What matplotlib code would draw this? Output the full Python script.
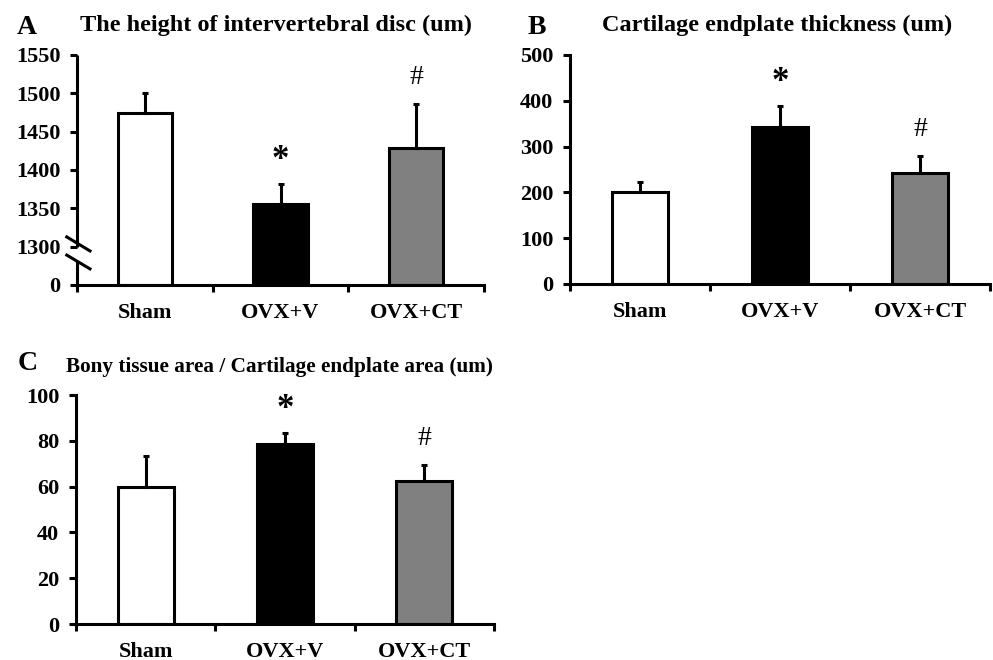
import numpy as np
import matplotlib
matplotlib.use('Agg')
import matplotlib.pyplot as plt

plt.rcParams['font.family'] = ['Liberation Serif', 'DejaVu Serif']
plt.rcParams['font.weight'] = 'bold'

# datos
groups = ['Sham', 'OVX+V', 'OVX+CT']
colors = ['white', 'black', '#808080']

disc_height = [1474, 1356, 1429]
disc_height_err = [26, 26, 57]
disc_marks = ['', '*', '#']

endplate_thick = [200, 343, 243]
endplate_thick_err = [23, 46, 36]
endplate_marks = ['', '*', '#']

bony_ratio = [60, 78.5, 62.4]
bony_ratio_err = [13.4, 5.0, 7.0]
bony_marks = ['', '*', '#']

# eje cortado del panel A: "0" se dibuja en 1250
a_base = 1250
a_ticks = [1250, 1300, 1350, 1400, 1450, 1500, 1550]
a_ticklabels = ['0', '1300', '1350', '1400', '1450', '1500', '1550']

LW = 2.2
TICK_FS = 16

fig = plt.figure(figsize=(9.93, 6.6), dpi=100)
axA = fig.add_axes([0.0775, 0.5682, 0.410, 0.3485])
axB = fig.add_axes([0.574, 0.5697, 0.423, 0.3470])
axC = fig.add_axes([0.0765, 0.0545, 0.421, 0.3470])


def draw_panel(ax, vals, errs, marks, base=0.0):
    x = np.arange(len(vals))
    heights = np.array(vals) - base
    ax.bar(x, heights, bottom=base, width=0.4, color=colors,
           edgecolor='black', linewidth=LW, zorder=2)
    ax.errorbar(x, vals, yerr=[np.zeros(len(errs)), errs], fmt='none',
                ecolor='black', elinewidth=LW, capsize=2.5, capthick=LW,
                zorder=3)
    for xi, v, e, m in zip(x, vals, errs, marks):
        if m == '*':
            ax.annotate(m, (xi, v + e), xytext=(0, 17), textcoords='offset points',
                        ha='center', va='center', fontsize=25, fontweight='bold')
        elif m:
            ax.annotate(m, (xi, v + e), xytext=(0, 19), textcoords='offset points',
                        ha='center', va='center', fontsize=20, fontweight='normal')
    ax.set_xlim(-0.5, len(vals) - 0.5)
    ax.set_xticks(x)
    ax.set_xticklabels(groups, fontsize=TICK_FS, fontweight='bold')
    ax.set_xticks(np.arange(len(vals) + 1) - 0.5, minor=True)
    ax.tick_params(axis='x', which='major', length=0, pad=13)
    ax.tick_params(axis='x', which='minor', length=5, width=LW, direction='out')
    ax.tick_params(axis='y', length=5, width=LW, direction='out', pad=7)
    for s in ['top', 'right']:
        ax.spines[s].set_visible(False)
    for s in ['left', 'bottom']:
        ax.spines[s].set_linewidth(LW)


# Panel A
draw_panel(axA, disc_height, disc_height_err, disc_marks, base=a_base)
axA.set_ylim(a_base, 1550)
axA.set_yticks(a_ticks)
axA.set_yticklabels(a_ticklabels)
axA.spines['left'].set_visible(False)
axA.plot([0, 0], [1.0, 0.165], transform=axA.transAxes, color='black',
         lw=LW, clip_on=False, solid_capstyle='butt')
axA.plot([0, 0], [0.105, 0.0], transform=axA.transAxes, color='black',
         lw=LW, clip_on=False, solid_capstyle='butt')
axA.plot([-0.025, 0.032], [0.209, 0.148], transform=axA.transAxes,
         color='black', lw=LW, clip_on=False)
axA.plot([-0.025, 0.032], [0.130, 0.070], transform=axA.transAxes,
         color='black', lw=LW, clip_on=False)

# Panel B
draw_panel(axB, endplate_thick, endplate_thick_err, endplate_marks)
axB.set_ylim(0, 500)
axB.set_yticks([0, 100, 200, 300, 400, 500])

# Panel C
draw_panel(axC, bony_ratio, bony_ratio_err, bony_marks)
axC.set_ylim(0, 100)
axC.set_yticks([0, 20, 40, 60, 80, 100])

for ax in (axA, axB, axC):
    for lab in ax.get_yticklabels():
        lab.set_fontweight('bold')
        lab.set_fontsize(TICK_FS)

# titulos y letras
fig.text(27 / 993, 1 - 27 / 660, 'A', fontsize=20, fontweight='bold', ha='center', va='center')
fig.text(276 / 993, 1 - 25 / 660, 'The height of intervertebral disc (um)',
         fontsize=17.5, fontweight='bold', ha='center', va='center')
fig.text(537 / 993, 1 - 27 / 660, 'B', fontsize=20, fontweight='bold', ha='center', va='center')
fig.text(777 / 993, 1 - 25 / 660, 'Cartilage endplate thickness (um)',
         fontsize=17.5, fontweight='bold', ha='center', va='center')
fig.text(28 / 993, 1 - 363 / 660, 'C', fontsize=20, fontweight='bold', ha='center', va='center')
fig.text(279 / 993, 1 - 367 / 660, 'Bony tissue area / Cartilage endplate area (um)',
         fontsize=15.3, fontweight='bold', ha='center', va='center')

fig.savefig('out.png', dpi=100)
